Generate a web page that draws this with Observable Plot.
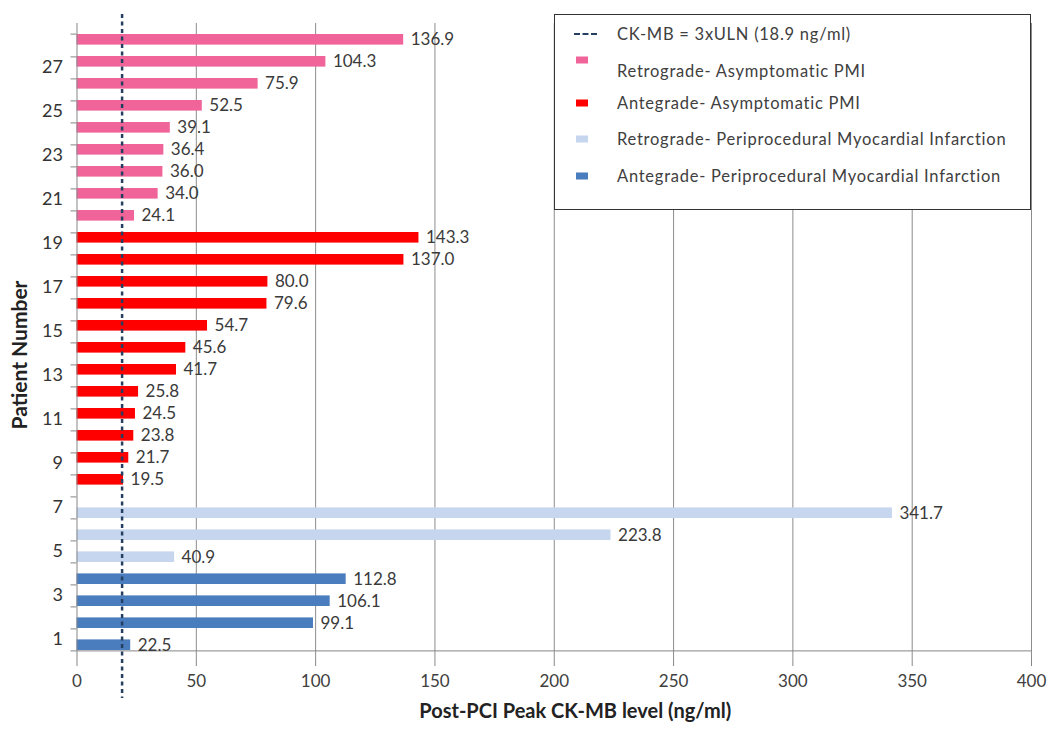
<!DOCTYPE html>
<html><head><meta charset="utf-8">
<script src="https://cdn.jsdelivr.net/npm/d3@7"></script>
<script src="https://cdn.jsdelivr.net/npm/@observablehq/plot@0.6"></script>
<style>
body{margin:0;background:#fff;font-family:Lato,"Open Sans",sans-serif;}
#wrap{position:relative;width:1050px;height:729px;overflow:hidden;}
.legend{position:absolute;left:554px;top:14px;width:475px;height:194px;border:1.5px solid #333;background:#fff;}
.item{position:absolute;left:62px;font-size:16.5px;letter-spacing:0.75px;color:#404040;white-space:nowrap;line-height:1;transform:translateY(-50%);}
.sw{position:absolute;left:21px;width:12px;height:7px;transform:translateY(-50%);}
.dash{position:absolute;left:19px;width:23px;height:0;border-top:2px dashed #243f60;}
.ytitle{position:absolute;left:17.5px;top:355px;transform:translate(-50%,-50%) rotate(-90deg);font-size:21px;font-weight:bold;color:#222;white-space:nowrap;line-height:1;}
</style></head>
<body><div id="wrap"></div>
<script>
const patients = [1,2,3,4,5,6,7,8,9,10,11,12,13,14,15,16,17,18,19,20,21,22,23,24,25,26,27,28];
const peakCKMB = [22.5,99.1,106.1,112.8,40.9,223.8,341.7,19.5,21.7,23.8,24.5,25.8,41.7,45.6,54.7,79.6,80.0,137.0,143.3,24.1,34.0,36.0,36.4,39.1,52.5,75.9,104.3,136.9];
const groupOfPatient = [
  "Antegrade- Periprocedural Myocardial Infarction","Antegrade- Periprocedural Myocardial Infarction","Antegrade- Periprocedural Myocardial Infarction","Antegrade- Periprocedural Myocardial Infarction",
  "Retrograde- Periprocedural Myocardial Infarction","Retrograde- Periprocedural Myocardial Infarction","Retrograde- Periprocedural Myocardial Infarction",
  "Antegrade- Asymptomatic PMI","Antegrade- Asymptomatic PMI","Antegrade- Asymptomatic PMI","Antegrade- Asymptomatic PMI","Antegrade- Asymptomatic PMI","Antegrade- Asymptomatic PMI",
  "Antegrade- Asymptomatic PMI","Antegrade- Asymptomatic PMI","Antegrade- Asymptomatic PMI","Antegrade- Asymptomatic PMI","Antegrade- Asymptomatic PMI","Antegrade- Asymptomatic PMI",
  "Retrograde- Asymptomatic PMI","Retrograde- Asymptomatic PMI","Retrograde- Asymptomatic PMI","Retrograde- Asymptomatic PMI","Retrograde- Asymptomatic PMI",
  "Retrograde- Asymptomatic PMI","Retrograde- Asymptomatic PMI","Retrograde- Asymptomatic PMI","Retrograde- Asymptomatic PMI"
];
const groupNames = ["Retrograde- Asymptomatic PMI","Antegrade- Asymptomatic PMI","Retrograde- Periprocedural Myocardial Infarction","Antegrade- Periprocedural Myocardial Infarction"];
const groupColors = ["#F0649A","#FF0000","#C6D6EF","#4A7DBE"];
const pmiGroups = ["Retrograde- Periprocedural Myocardial Infarction","Antegrade- Periprocedural Myocardial Infarction"];
const threshold = 18.9;
const thresholdLabel = "CK-MB = 3xULN (18.9 ng/ml)";
const xTicks = [0,50,100,150,200,250,300,350,400];
const yTickLabels = [1,3,5,7,9,11,13,15,17,19,21,23,25,27];
const xTitle = "Post-PCI Peak CK-MB level (ng/ml)";
const yTitle = "Patient Number";

const data = patients.map((p,i)=>({patient:p, value:peakCKMB[i], group:groupOfPatient[i]}));
const low = data.filter(d=>pmiGroups.includes(d.group));
const high = data.filter(d=>!pmiGroups.includes(d.group));

const W=1050, H=729, mL=76.5, mR=19, mT=23, mB=68;
const bw = (H-mT-mB)/patients.length;
const plotW = W-mL-mR;
const axisGray = "#868686";

const chart = Plot.plot({
  width:W, height:H, marginLeft:mL, marginRight:mR, marginTop:mT, marginBottom:mB,
  style:{fontFamily:"Lato, 'Open Sans', sans-serif", background:"transparent", color:"#404040"},
  x:{domain:[0,400]},
  y:{domain:patients.slice().reverse(), padding:0},
  color:{domain:groupNames, range:groupColors},
  marks:[
    Plot.ruleX(xTicks.filter(t=>t>0), {stroke:"#8c8c8c", strokeWidth:1}),
    Plot.barX(low, {x:"value", y:"patient", fill:"group", insetTop:bw/2, insetBottom:0}),
    Plot.barX(high, {x:"value", y:"patient", fill:"group", insetBottom:bw/2, insetTop:0}),
    Plot.ruleX([0], {stroke:axisGray}),
    Plot.ruleY([1], {dy:bw/2, stroke:axisGray}),
    Plot.ruleY(patients, {dy:bw/2, insetLeft:-6, insetRight:plotW, stroke:axisGray}),
    Plot.ruleY([28], {dy:-bw/2, insetLeft:-6, insetRight:plotW, stroke:axisGray}),
    Plot.axisX({ticks:xTicks, tickSize:5, tickPadding:8, fontSize:17, stroke:axisGray, color:"#404040", label:null}),
    Plot.axisY({ticks:yTickLabels, tickSize:0, tickPadding:14, fontSize:18, color:"#333", label:null}),
    Plot.text(low, {x:"value", y:"patient", text:d=>d.value.toFixed(1), dx:7, dy:bw/4, textAnchor:"start", fontSize:17, fill:"#3a3a3a"}),
    Plot.text(high, {x:"value", y:"patient", text:d=>d.value.toFixed(1), dx:7, dy:-bw/4, textAnchor:"start", fontSize:17, fill:"#3a3a3a"}),
    Plot.ruleX([threshold], {stroke:"#243f60", strokeWidth:2.5, strokeDasharray:"4,3.5", insetTop:-9, insetBottom:-37}),
    Plot.text([xTitle], {text:d=>d, frameAnchor:"bottom", dx:21, dy:56, fontSize:20, fontWeight:"bold", fill:"#222"})
  ]
});
const wrap = document.getElementById("wrap");
wrap.appendChild(chart);

const yt = document.createElement("div");
yt.className = "ytitle"; yt.textContent = yTitle;
wrap.appendChild(yt);

// legend
const leg = document.createElement("div");
leg.className = "legend";
const rows = [
  {type:"dash", label:thresholdLabel, ty:19, sy:19},
  {type:"sw", color:groupColors[0], label:groupNames[0], ty:56, sy:45},
  {type:"sw", color:groupColors[1], label:groupNames[1], ty:88, sy:88},
  {type:"sw", color:groupColors[2], label:groupNames[2], ty:124, sy:124},
  {type:"sw", color:groupColors[3], label:groupNames[3], ty:161, sy:161}
];
rows.forEach(r=>{
  const s = document.createElement("div");
  if (r.type==="dash"){ s.className="dash"; s.style.top=(r.sy-1)+"px"; }
  else { s.className="sw"; s.style.top=r.sy+"px"; s.style.background=r.color; }
  leg.appendChild(s);
  const t = document.createElement("div");
  t.className="item"; t.style.top=r.ty+"px"; t.textContent=r.label;
  leg.appendChild(t);
});
wrap.appendChild(leg);
</script>
</body></html>
